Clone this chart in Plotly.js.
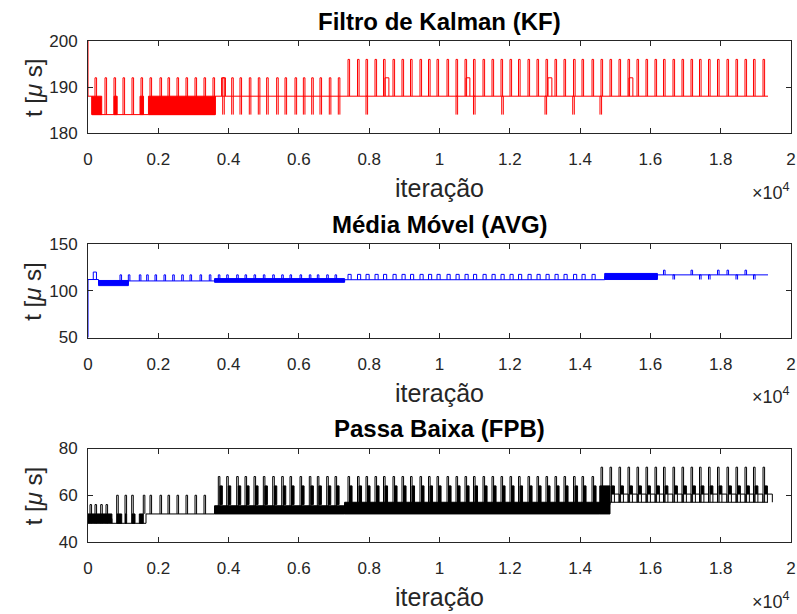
<!DOCTYPE html>
<html><head><meta charset="utf-8">
<script src="https://cdn.plot.ly/plotly-3.0.1.min.js"></script>
<style>html,body{margin:0;padding:0;background:#fff}#chart{width:797px;height:614px}</style>
</head><body><div id="chart"></div>
<script>
// ---------------- data ----------------
const xTickVals = [0, 2000, 4000, 6000, 8000, 10000, 12000, 14000, 16000, 18000, 20000];
const xTickText = ['0', '0.2', '0.4', '0.6', '0.8', '1', '1.2', '1.4', '1.6', '1.8', '2'];
const panelTitles = ['Filtro de Kalman (KF)', 'Média Móvel (AVG)', 'Passa Baixa (FPB)'];
const xLabelText = 'iteração';
const yLabelText = 't [<i>μ</i> s]';
const kfYTicks = [180, 190, 200];
const avgYTicks = [50, 100, 150];
const fpbYTicks = [40, 60, 80];

// ---- Filtro de Kalman (red) ----
const kfStepX = [0, 0, 110, 1720, 3620, 19346];
const kfStepY = [200, 188, 184, 184, 188, 188];
const kfBandX0 = [110, 740, 1480, 1720];
const kfBandX1 = [390, 830, 1580, 3620];
const kfBandLo = [184, 184, 184, 184];
const kfBandHi = [188, 188, 188, 188];
const kfSpikes192 = [199, 484, 740, 996, 1252, 1508, 1764, 2048, 2276, 2532, 2788, 3044, 3300, 3556,
  3832, 4088, 4324, 4589, 4845, 5082, 5367, 5605, 5890, 6127, 6364, 6600, 6865, 7121];
const kfSpikes196 = [7397, 7667, 7909, 8165, 8407, 8677, 8933, 9175, 9445, 9687, 9929, 10214, 10470,
  10726, 10967, 11238, 11494, 11750, 12006, 12248, 12518, 12774, 13030, 13286, 13542, 13813, 14054,
  14339, 14595, 14851, 15107, 15363, 15619, 15875, 16131, 16373, 16643, 16899, 17155, 17397, 17653,
  17909, 18179, 18435, 18691, 18933, 19204];
const kfDips184 = [7909, 10470, 10967, 11770, 13002, 13790, 14566];
const kfShelves192 = [3800, 8450, 10754, 13087, 15391];

// ---- Média Móvel (blue) ----
const avgStepX = [0, 0, 300, 1150, 3600, 7300, 14700, 16200, 19346];
const avgStepY = [50, 112, 108, 110.5, 110, 111.8, 115, 117, 117];
const avgBandX0 = [300, 3600, 14700];
const avgBandX1 = [1150, 7300, 16200];
const avgBandLo = [105.5, 109, 112];
const avgBandHi = [111, 113, 118.5];
const avgBump120 = [150];
const avgSpikesA = [910, 1147, 1460, 1669, 1906, 2162, 2410, 2666, 2902, 3187, 3451];
const avgSpikesB = [3707, 3946, 4230, 4467, 4723, 4988, 5255, 5511, 5747, 6032, 6296, 6524, 6791, 7028];
const avgPulsesC = [7397, 7667, 7909, 8165, 8407, 8677, 8933, 9175, 9445, 9687, 9929, 10214, 10470,
  10726, 10967, 11238, 11494, 11750, 12006, 12248, 12518, 12774, 13030, 13286, 13542, 13813, 14054, 14339];
const avgSpikesD = [16373, 17155, 17909, 18179, 18691];
const avgDipsD = [16643, 17397, 17653, 18435, 18933];

// ---- Passa Baixa (black) ----
const fpbStepX = [0, 680, 1650, 3600, 7300, 14851, 19346];
const fpbStepY = [50, 48, 52, 54, 56, 57, 57];
const fpbBandX0 = [0, 816, 1053, 1243, 1460, 3600, 7300, 14560];
const fpbBandX1 = [680, 959, 1100, 1337, 1573, 7300, 14560, 14851];
const fpbBandLo = [48, 48, 48, 48, 48, 52, 52, 52];
const fpbBandHi = [52, 52, 52, 52, 52, 55.5, 57, 64];
const fpbSpikes56 = [57, 199, 361, 512];
const fpbSpikes60 = [816, 1053, 1243, 1573, 1764, 2048, 2276, 2532, 2788, 3044, 3300];
const fpbSpikes68 = [3707, 3946, 4230, 4467, 4723, 4988, 5255, 5511, 5747, 6032, 6296, 6524, 6791, 7028,
  7397, 7667, 7909, 8165, 8407, 8677, 8933, 9175, 9445, 9687, 9929, 10214, 10470, 10726, 10967, 11238,
  11494, 11750, 12006, 12248, 12518, 12774, 13030, 13286, 13542, 13813, 14054, 14339];
const fpbShelves64 = fpbSpikes68;   // each tall spike carries a short 64 µs shelf
const fpbSpikes72 = [14595, 14851, 15107, 15363, 15619, 15875, 16131, 16373, 16643, 16899, 17155, 17397, 17653,
  17909, 18179, 18435, 18691, 18933, 19204];
const fpbBlocks64 = fpbSpikes72.slice(1);

// ---------------- building helpers ----------------
const PULSE_W = 45;
function pulseTrace(groups, color, ax) {
  const x = [], y = [];
  for (const g of groups) {
    for (const xi of g[0]) {
      const w = g[3] || PULSE_W;
      const x0 = xi + (g[4] || 0);
      x.push(x0, x0, x0 + w, x0 + w, null);
      y.push(g[1], g[2], g[2], g[1], null);
    }
  }
  return {type: 'scatter', mode: 'lines', x, y, xaxis: 'x' + ax, yaxis: 'y' + ax,
    line: {color, width: 1}, hoverinfo: 'skip', showlegend: false};
}
function blockTrace(groups, color, ax) {
  const x = [], y = [];
  for (const g of groups) {
    for (const xi of g[0]) {
      const x0 = xi + g[4], x1 = x0 + g[3];
      x.push(x0, x1, x1, x0, x0, null);
      y.push(g[1], g[1], g[2], g[2], g[1], null);
    }
  }
  return {type: 'scatter', mode: 'lines', x, y, fill: 'toself', fillcolor: color,
    xaxis: 'x' + ax, yaxis: 'y' + ax, line: {color, width: 1}, hoverinfo: 'skip', showlegend: false};
}
function bandTrace(x0, x1, lo, hi, color, ax) {
  const x = [], y = [];
  for (let i = 0; i < x0.length; i++) {
    x.push(x0[i], x1[i], x1[i], x0[i], x0[i], null);
    y.push(lo[i], lo[i], hi[i], hi[i], lo[i], null);
  }
  return {type: 'scatter', mode: 'lines', x, y, fill: 'toself', fillcolor: color,
    xaxis: 'x' + ax, yaxis: 'y' + ax, line: {color, width: 1}, hoverinfo: 'skip', showlegend: false};
}
function stepTrace(x, y, color, ax) {
  return {type: 'scatter', mode: 'lines', x, y, xaxis: 'x' + ax, yaxis: 'y' + ax,
    line: {color, width: 1, shape: 'hv'}, hoverinfo: 'skip', showlegend: false};
}

const RED = '#ff0000', BLUE = '#0000ff', BLACK = '#000000';
const traces = [
  bandTrace(kfBandX0, kfBandX1, kfBandLo, kfBandHi, RED, ''),
  stepTrace(kfStepX, kfStepY, RED, ''),
  pulseTrace([[kfSpikes192, 184, 192], [kfSpikes196, 188, 196], [kfDips184, 184, 188], [kfShelves192, 188, 192, 110]], RED, ''),
  bandTrace(avgBandX0, avgBandX1, avgBandLo, avgBandHi, BLUE, '2'),
  stepTrace(avgStepX, avgStepY, BLUE, '2'),
  pulseTrace([[avgBump120, 112, 120, 90], [avgSpikesA, 110.5, 117], [avgSpikesB, 110, 117], [avgPulsesC, 111.8, 117.5, 90], [avgSpikesD, 117, 122], [avgDipsD, 112, 117]], BLUE, '2'),
  bandTrace(fpbBandX0, fpbBandX1, fpbBandLo, fpbBandHi, BLACK, '3'),
  stepTrace(fpbStepX, fpbStepY, BLACK, '3'),
  blockTrace([[fpbShelves64, 56, 64, 70, 45], [fpbBlocks64, 60.5, 64, 80, 45]], BLACK, '3'),
  pulseTrace([[fpbSpikes56, 48, 56], [fpbSpikes60, 52, 60], [fpbSpikes68, 54, 68], [fpbSpikes72, 57, 72], [fpbBlocks64, 57, 60.5, 140, 125]], BLACK, '3'),
];

// ---------------- layout ----------------
const FONT = 'Liberation Sans, Arial, Helvetica, sans-serif';
const AXC = '#262626';
const M = {l: 88, r: 6, t: 41, b: 72};
const H = 614 - M.t - M.b;
const py = Y => (614 - M.b - Y) / H;          // pixel row -> paper y
const boxes = [[41, 133], [244, 337.5], [448.5, 542]];

function xAxis(anchor) {
  return {anchor, range: [0, 20000], tickvals: xTickVals, ticktext: xTickText,
    showline: true, mirror: 'ticks', linecolor: AXC, linewidth: 1, ticks: 'inside', ticklen: 5,
    tickcolor: AXC, showgrid: false, zeroline: false, ticklabelstandoff: 11,
    tickfont: {family: FONT, size: 17, color: AXC}};
}
function yAxis(anchor, range, vals, dom) {
  return {anchor, range, tickvals: vals, domain: dom, showline: true, mirror: 'ticks', linecolor: AXC,
    linewidth: 1, ticks: 'inside', ticklen: 5, tickcolor: AXC, showgrid: false, zeroline: false,
    ticklabelstandoff: 6, tickfont: {family: FONT, size: 17, color: AXC}};
}

const annotations = [];
boxes.forEach((b, i) => {
  annotations.push({text: '<b>' + panelTitles[i] + '</b>', xref: 'paper', yref: 'paper', x: 0.5,
    y: py(b[0] - 20), xanchor: 'center', yanchor: 'middle', showarrow: false,
    font: {family: FONT, size: 24, color: '#000'}});
  annotations.push({text: xLabelText, xref: 'paper', yref: 'paper', x: 0.5, y: py(b[1] + 55),
    xanchor: 'center', yanchor: 'middle', showarrow: false, font: {family: FONT, size: 25, color: AXC}});
  annotations.push({text: '×10<sup>4</sup>', xref: 'paper', yref: 'paper', x: 1.002, y: py(b[1] + 58),
    xanchor: 'right', yanchor: 'middle', showarrow: false, font: {family: FONT, size: 18, color: AXC}});
  annotations.push({text: yLabelText, xref: 'paper', yref: 'paper', x: (33 - M.l) / (797 - M.l - M.r),
    y: py((b[0] + b[1]) / 2), xanchor: 'center', yanchor: 'middle', textangle: -90, showarrow: false,
    font: {family: FONT, size: 24, color: AXC}});
});

const layout = {
  width: 797, height: 614, margin: M, paper_bgcolor: '#fff', plot_bgcolor: '#fff', showlegend: false,
  xaxis: xAxis('y'), xaxis2: xAxis('y2'), xaxis3: xAxis('y3'),
  yaxis: yAxis('x', [180, 200], kfYTicks, [py(boxes[0][1]), py(boxes[0][0])]),
  yaxis2: yAxis('x2', [50, 150], avgYTicks, [py(boxes[1][1]), py(boxes[1][0])]),
  yaxis3: yAxis('x3', [40, 80], fpbYTicks, [py(boxes[2][1]), py(boxes[2][0])]),
  annotations
};
Plotly.newPlot('chart', traces, layout, {staticPlot: true, displayModeBar: false});
</script></body></html>
